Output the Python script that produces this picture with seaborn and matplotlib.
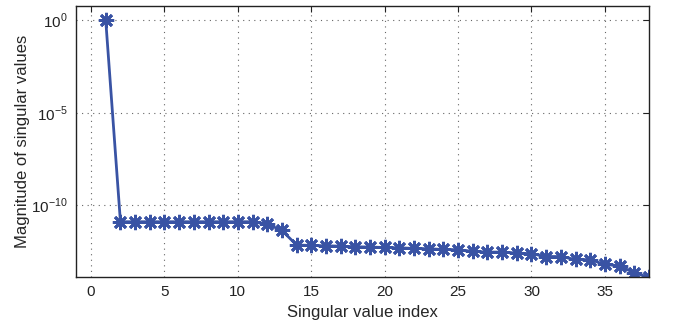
import numpy as np
import matplotlib as mpl
from matplotlib import pyplot as plt
import seaborn as sns
import pandas as pd

sns.set_style('white')
plt.rcParams['font.family'] = ['Liberation Sans', 'DejaVu Sans']
plt.rcParams['mathtext.fontset'] = 'custom'
plt.rcParams['mathtext.rm'] = 'Liberation Sans'

# log10 of singular values
index = list(range(1, 39))
log_sv = [0.0, -10.89, -10.89, -10.89, -10.89, -10.89, -10.89, -10.89, -10.89, -10.89,
          -10.89, -11.02, -11.36, -12.15, -12.17, -12.19, -12.21, -12.24, -12.26, -12.28,
          -12.30, -12.33, -12.35, -12.39, -12.40, -12.49, -12.53, -12.53, -12.58, -12.62,
          -12.77, -12.77, -12.93, -12.94, -13.20, -13.27, -13.66, -13.88]

df = pd.DataFrame({'index': index, 'sv': 10.0 ** np.array(log_sv)})

fig = plt.figure(figsize=(6.82, 3.24), dpi=100)
ax = fig.add_axes([0.112, 0.146, 0.8395, 0.8355])

color = '#3953a4'
sns.lineplot(data=df, x='index', y='sv', ax=ax, color=color, linewidth=2,
             marker=(8, 2, 0), markersize=11, markeredgewidth=2.0,
             markeredgecolor=color)

ax.set_yscale('log')
ax.set_xlim(-1, 38)
ax.set_ylim(10 ** -13.86, 10 ** 0.77)
ax.set_xticks([0, 5, 10, 15, 20, 25, 30, 35])
ax.set_yticks([1e-10, 1e-5, 1e0])
ax.set_yticklabels([r'$10^{-10}$', r'$10^{-5}$', r'$10^{0}$'])
ax.yaxis.set_minor_locator(mpl.ticker.NullLocator())

ax.grid(True, linestyle=(0, (1, 4)), color='#666666', linewidth=0.8)
ax.tick_params(direction='in', length=4, width=0.8, top=True, right=True,
               labelsize=11, colors='#222222', pad=6)
for s in ax.spines.values():
    s.set_linewidth(1.0)
    s.set_color('#222222')

ax.set_xlabel('Singular value index', fontsize=12)
ax.set_ylabel('Magnitude of singular values', fontsize=12, labelpad=1)

fig.savefig('out.png', dpi=100)
